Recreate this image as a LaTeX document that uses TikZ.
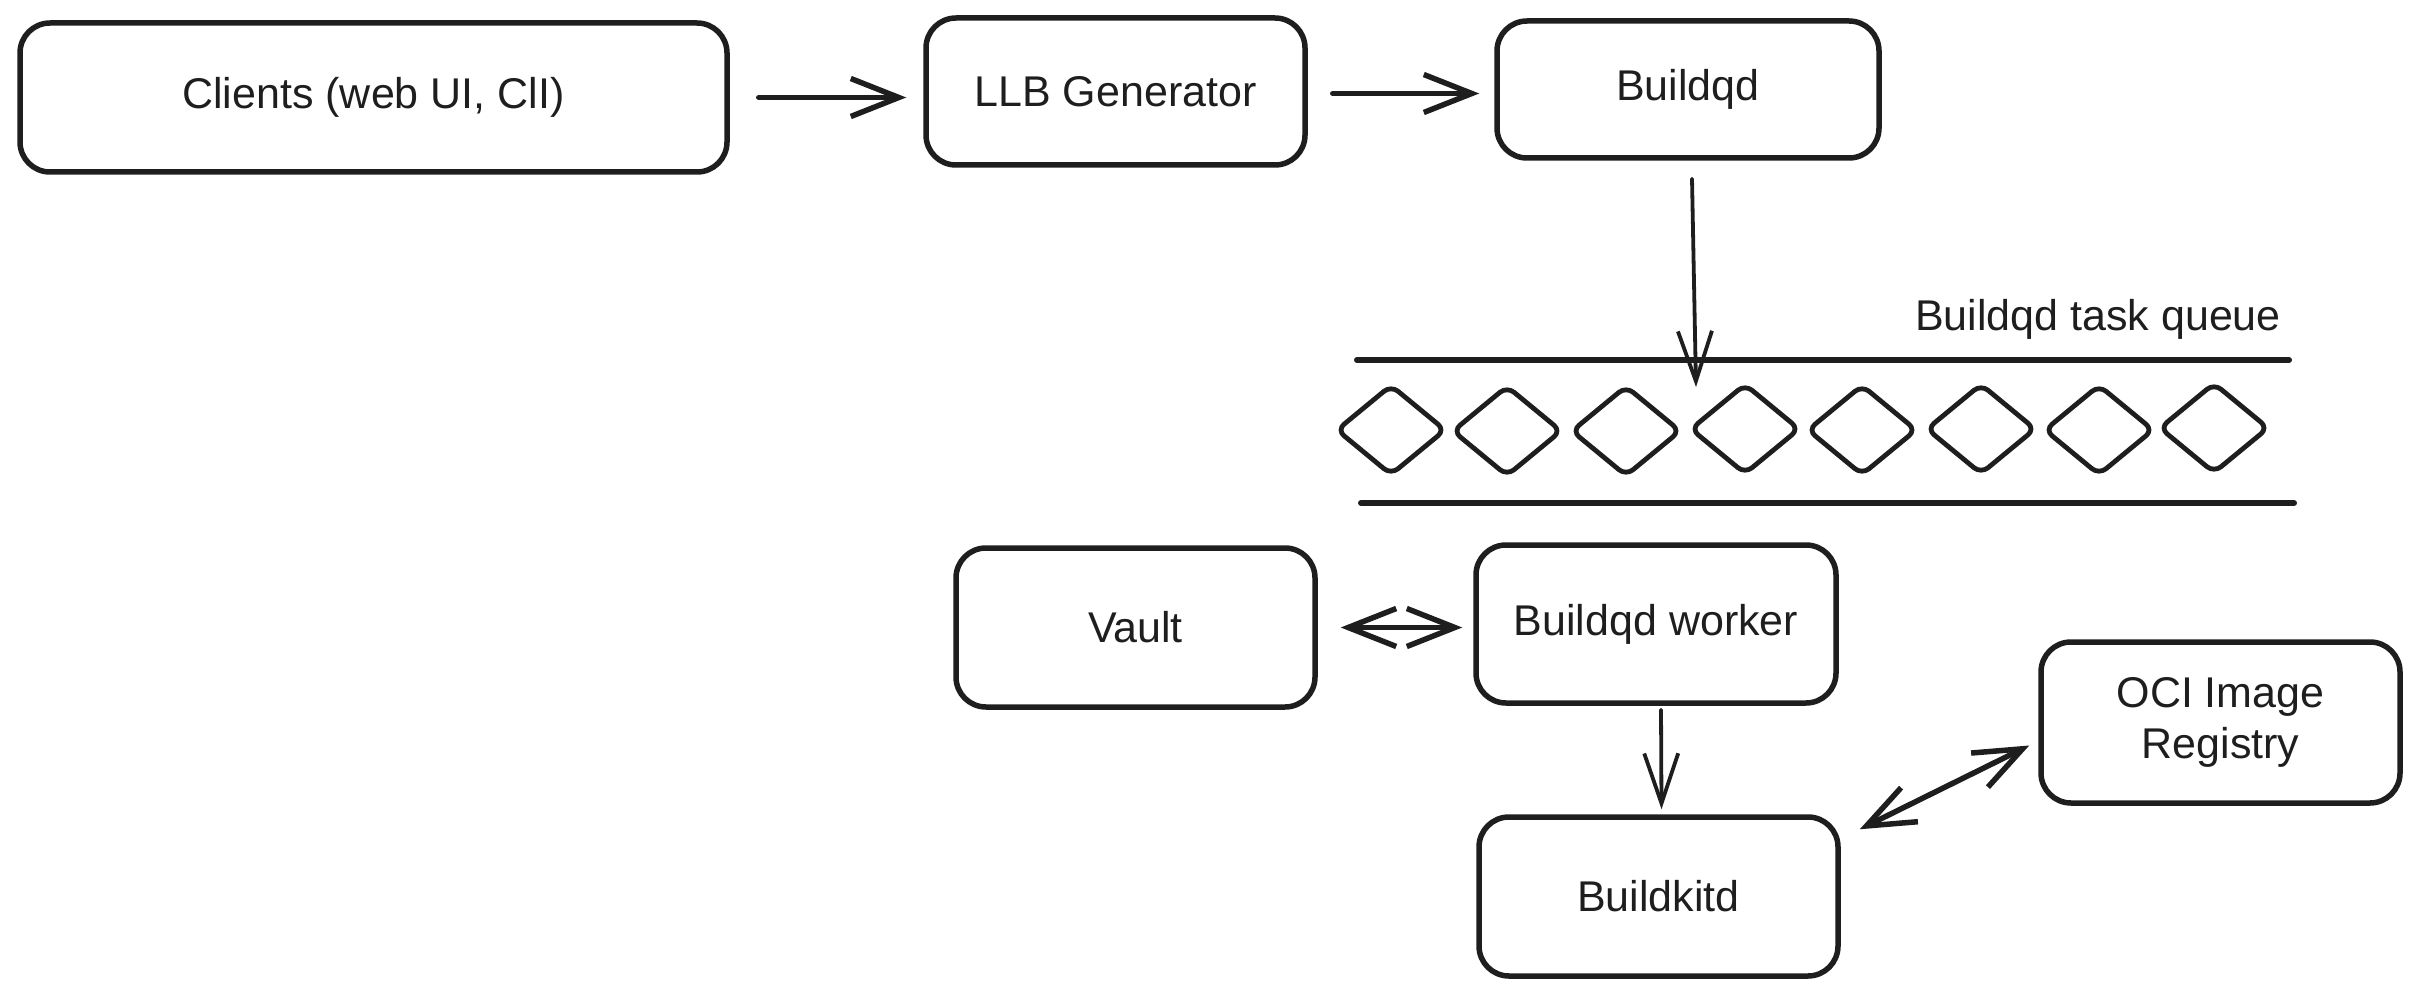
\documentclass[tikz,border=0pt]{standalone}
\usepackage{fontspec}
\setmainfont{Liberation Sans}
\usetikzlibrary{arrows.meta,shapes.geometric}
\definecolor{ink}{HTML}{1E1E1E}
\tikzset{
  box/.style={draw=ink, line width=5.5pt, rounded corners=30pt, inner sep=0pt,
    text=ink, font=\fontsize{43}{51}\selectfont, align=center},
  arr/.style={draw=ink, line width=5.5pt, line cap=round, line join=round,
    -{Straight Barb[length=48pt,width=38pt,line width=5.5pt]}},
  darr/.style={draw=ink, line width=5.5pt, line cap=round, line join=round,
    {Straight Barb[length=48pt,width=38pt,line width=5.5pt]}-{Straight Barb[length=48pt,width=38pt,line width=5.5pt]}},
  thinarr/.style={draw=ink, line width=3.8pt, line cap=round, line join=round,
    -{Straight Barb[length=50pt,width=34pt,line width=3.8pt]}},
  task/.style={draw=ink, line width=4.8pt, shape=diamond, inner sep=0pt,
    minimum width=110pt, minimum height=91pt, rounded corners=9pt},
  qline/.style={draw=ink, line width=6pt, line cap=round}
}
\begin{document}
\begin{tikzpicture}[x=1pt,y=-1pt]
\useasboundingbox (0,0) rectangle (2419,995);
% boxes
\node[box, minimum width=707pt, minimum height=149pt] (clients) at (373.5,97.5) {Clients (web UI, ClI)};
\node[box, minimum width=379pt, minimum height=147pt] (llb) at (1115.5,91.5) {LLB Generator};
\node[box, minimum width=382pt, minimum height=137pt] (buildqd) at (1688,89.5) {Buildqd};
\node[box, minimum width=359pt, minimum height=159pt] (vault) at (1135.5,627.5) {Vault};
\node[box, minimum width=360pt, minimum height=158pt] (worker) at (1656,624) {Buildqd worker};
\node[box, minimum width=359pt, minimum height=161pt] (oci) at (2220.5,722.5) {OCI Image\\Registry};
\node[box, minimum width=359pt, minimum height=159pt] (buildkitd) at (1658.5,896.5) {Buildkitd};
% queue
\node[anchor=base east, text=ink, font=\fontsize{43}{51}\selectfont, inner sep=0pt] (qlabel) at (2281,330) {Buildqd task queue};
\draw[qline] (1357,360) -- (2289,360);
\draw[qline] (1361,503) -- (2294,503);
\node[task] (t1) at (1391,430) {};
\node[task] (t2) at (1507,431) {};
\node[task] (t3) at (1626,431) {};
\node[task] (t4) at (1745,429) {};
\node[task] (t5) at (1862,430) {};
\node[task] (t6) at (1981,429) {};
\node[task] (t7) at (2099,430) {};
\node[task] (t8) at (2214,428) {};
\coordinate (qin) at (1696,387);
% connectors
\draw[arr] ([shift={(29,0)}]clients.east) -- ([shift={(-17,0)}]clients.east -| llb.west);
\draw[arr] ([shift={(25,2)}]llb.east) -- ([shift={(-15,2)}]llb.east -| buildqd.west);
\draw[thinarr] ([shift={(4,18)}]buildqd.south) -- (qin);
\draw[darr] ([shift={(23,0)}]vault.east) -- ([shift={(-11,0)}]vault.east -| worker.west);
\draw[thinarr] ([shift={(5,4)}]worker.south) -- ([shift={(3,-5)}]buildkitd.north);
\draw[darr] ([shift={(19,15)}]buildkitd.north east) -- ([shift={(-9,23)}]oci.west);
\end{tikzpicture}
\end{document}
